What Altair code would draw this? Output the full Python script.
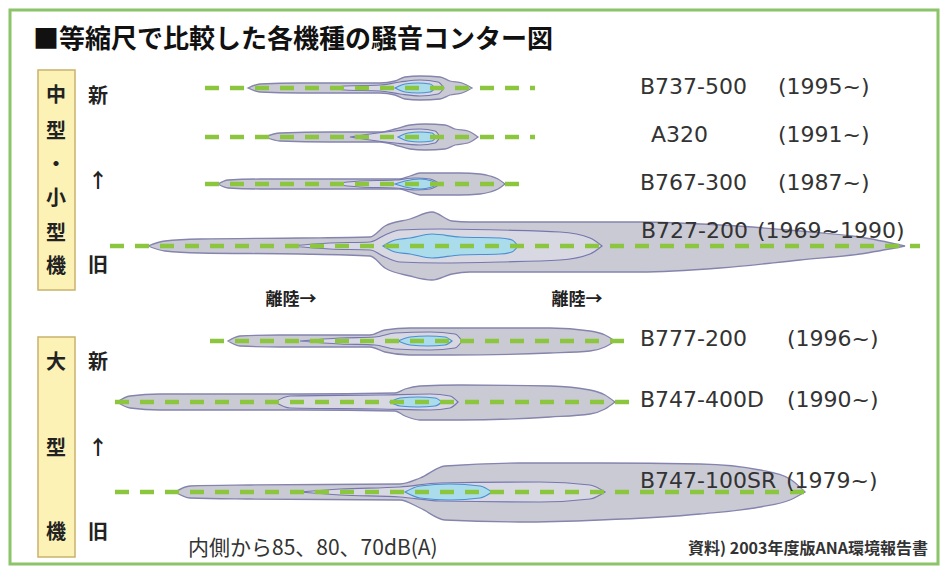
import altair as alt
import pandas as pd

# ---------------- data ----------------
aircraft = ["B737-500", "A320", "B767-300", "B727-200", "B777-200", "B747-400D", "B747-100SR"]
years = ["(1995~)", "(1991~)", "(1987~)", "(1969~1990)", "(1996~)", "(1990~)", "(1979~)"]
row_y = [88, 137, 184, 246, 341, 402, 492]
track_start = [205, 205, 205, 110, 210, 115, 115]
track_end = [535, 535, 530, 920, 635, 635, 805]

# contour outlines: x positions, half-width above and below the track
# level 70 dB (outer)
outer_x = {
    "B737-500": [248, 260, 300, 380, 395, 405, 420, 440, 450, 462, 472],
    "A320": [265, 280, 330, 380, 395, 410, 425, 445, 455, 468, 478],
    "B767-300": [218, 228, 260, 400, 410, 420, 460, 480, 490, 498, 505],
    "B727-200": [148, 165, 200, 300, 370, 385, 410, 432, 452, 470, 560, 640, 720, 800, 860, 905],
    "B777-200": [228, 240, 280, 370, 385, 410, 450, 550, 590, 605, 615],
    "B747-400D": [117, 130, 160, 300, 395, 405, 420, 460, 550, 590, 605, 615],
    "B747-100SR": [175, 190, 250, 400, 420, 445, 520, 600, 700, 760, 790, 805],
}
outer_top = {
    "B737-500": [0, 4, 5, 5, 7, 11, 12, 11, 7, 5, 0],
    "A320": [0, 4, 5, 5, 8, 12, 13, 12, 8, 6, 0],
    "B767-300": [0, 4, 5, 5, 8, 11, 11, 10, 8, 5, 0],
    "B727-200": [0, 5, 7, 8, 9, 20, 27, 34, 25, 24, 24, 24, 21, 15, 9, 0],
    "B777-200": [0, 5, 6, 6, 11, 13, 13, 13, 10, 6, 0],
    "B747-400D": [0, 6, 8, 8, 9, 13, 16, 17, 16, 12, 7, 0],
    "B747-100SR": [0, 6, 7, 8, 14, 26, 29, 29, 28, 22, 13, 0],
}
outer_bot = {
    "B737-500": [0, 4, 5, 5, 7, 11, 12, 11, 7, 5, 0],
    "A320": [0, 4, 5, 5, 8, 12, 13, 12, 8, 6, 0],
    "B767-300": [0, 4, 5, 5, 8, 11, 11, 10, 8, 5, 0],
    "B727-200": [0, 5, 7, 8, 10, 22, 30, 34, 28, 26, 26, 26, 22, 14, 8, 0],
    "B777-200": [0, 5, 6, 6, 11, 14, 14, 12, 10, 6, 0],
    "B747-400D": [0, 6, 8, 8, 9, 14, 18, 18, 15, 12, 7, 0],
    "B747-100SR": [0, 6, 7, 8, 16, 28, 30, 28, 22, 15, 8, 0],
}
# level 80 dB (middle)
mid_x = {
    "B737-500": [330, 345, 380, 400, 420, 438, 444],
    "A320": [350, 370, 395, 420, 435, 440],
    "B767-300": [330, 360, 395, 415, 430, 440],
    "B727-200": [290, 330, 370, 385, 400, 440, 500, 560, 590, 602],
    "B777-200": [300, 340, 375, 395, 430, 455, 462],
    "B747-400D": [275, 290, 380, 430, 450, 458],
    "B747-100SR": [300, 340, 400, 440, 540, 590, 605],
}
mid_half = {
    "B737-500": [0, 2, 3, 6, 8, 6, 0],
    "A320": [0, 3, 6, 8, 6, 0],
    "B767-300": [0, 3, 4, 6, 5, 0],
    "B727-200": [0, 3, 4, 11, 16, 17, 16, 14, 8, 0],
    "B777-200": [0, 3, 4, 8, 9, 7, 0],
    "B747-400D": [0, 6, 7, 8, 6, 0],
    "B747-100SR": [0, 3, 5, 9, 10, 7, 0],
}
# level 85 dB (inner)
inner_x = {
    "B737-500": [395, 405, 418, 430, 435],
    "A320": [398, 408, 420, 432, 436],
    "B767-300": [395, 405, 420, 432, 437],
    "B727-200": [383, 395, 410, 432, 460, 500, 512, 518],
    "B777-200": [398, 410, 428, 445, 452],
    "B747-400D": [390, 400, 418, 435, 442],
    "B747-100SR": [405, 420, 450, 480, 492],
}
inner_half = {
    "B737-500": [0, 4, 5, 4, 0],
    "A320": [0, 4, 5, 4, 0],
    "B767-300": [0, 3, 5, 3, 0],
    "B727-200": [0, 6, 8, 12, 9, 8, 6, 0],
    "B777-200": [0, 4, 5, 4, 0],
    "B747-400D": [0, 4, 5, 4, 0],
    "B747-100SR": [0, 6, 8, 6, 0],
}

title_text = "■等縮尺で比較した各機種の騒音コンター図"
group1_chars = ["中", "型", "・", "小", "型", "機"]
group2_chars = ["大", "型", "機"]
side_chars = ["新", "↑", "旧"]
takeoff_label = "離陸→"
legend_text = "内側から85、80、70dB(A)"
source_text = "資料) 2003年度版ANA環境報告書"

# ---------------- layout ----------------
name_x = [640, 651, 640, 641, 640, 640, 640]
year_x = [778, 778, 778, 757, 787, 787, 786]
label_y = [87, 135, 183, 231, 339, 400, 481]
group1_y = [96, 132, 165, 199, 234, 267]
group2_y = [363, 449, 533]
side1_y = [97, 182, 266]
side2_y = [363, 449, 533]
takeoff_x = [291, 577]
takeoff_y = [300, 300]


def contour_frame(xs, tops, bots):
    rows = []
    for i, a in enumerate(aircraft):
        cy = row_y[i]
        for x, t, b in zip(xs[a], tops[a], bots[a]):
            rows.append({"aircraft": a, "x": x, "yt": cy - t, "yb": cy + b})
    return pd.DataFrame(rows)


outer_df = contour_frame(outer_x, outer_top, outer_bot)
mid_df = contour_frame(mid_x, mid_half, mid_half)
inner_df = contour_frame(inner_x, inner_half, inner_half)

track_df = pd.DataFrame({"aircraft": aircraft, "x": track_start, "x2": track_end, "y": row_y})
name_df = pd.DataFrame({"t": aircraft, "x": name_x, "y": label_y})
year_df = pd.DataFrame({"t": years, "x": year_x, "y": label_y})

XS = alt.Scale(domain=[8, 940], nice=False, zero=False)
YS = alt.Scale(domain=[8, 566], nice=False, zero=False, reverse=True)


def X(f):
    return alt.X(f, type="quantitative", scale=XS, axis=None)


def Y(f):
    return alt.Y(f, type="quantitative", scale=YS, axis=None)


def area_layer(df, fill, stroke, sw):
    return alt.Chart(df).mark_area(
        interpolate="monotone", fill=fill, stroke=stroke, strokeWidth=sw
    ).encode(x=X("x"), y=Y("yt"), y2="yb:Q", detail="aircraft:N")


outer = area_layer(outer_df, "#cacad4", "#8484ae", 1.3)
mid = area_layer(mid_df, "#d8d8e2", "#7676b0", 1.2)
inner = area_layer(inner_df, "#aadcec", "#4b8fd2", 1.2)

tracks = alt.Chart(track_df).mark_rule(
    color="#8cc63f", strokeWidth=4.5, strokeDash=[14, 11]
).encode(x=X("x"), x2="x2:Q", y=Y("y"))

frame_df = pd.DataFrame({"x": [10], "x2": [938], "y": [10], "y2": [564]})
frame = alt.Chart(frame_df).mark_rect(
    fillOpacity=0, stroke="#8cc46a", strokeWidth=3
).encode(x=X("x"), x2="x2:Q", y=Y("y"), y2="y2:Q")

box_df = pd.DataFrame({"x": [38, 38], "x2": [75, 75], "y": [70, 337], "y2": [290, 557]})
boxes = alt.Chart(box_df).mark_rect(
    fill="#fdf2b6", stroke="#c8b26c", strokeWidth=1.5
).encode(x=X("x"), x2="x2:Q", y=Y("y"), y2="y2:Q")

cjk = "Noto Sans CJK JP"


def text_layer(df, **kw):
    return alt.Chart(df).mark_text(**kw).encode(x=X("x"), y=Y("y"), text="t:N")


title = text_layer(
    pd.DataFrame({"t": [title_text], "x": [33], "y": [40]}),
    align="left", baseline="middle", font=cjk, fontSize=26, fontWeight="bold", color="#111111",
)
g_df = pd.DataFrame({
    "t": group1_chars + group2_chars,
    "x": [56] * (len(group1_chars) + len(group2_chars)),
    "y": group1_y + group2_y,
})
gtext = text_layer(g_df, align="center", baseline="middle", font=cjk, fontSize=20,
                   fontWeight="bold", color="#222222")
s_df = pd.DataFrame({"t": side_chars + side_chars, "x": [98] * 6, "y": side1_y + side2_y})
stext = text_layer(s_df, align="center", baseline="middle", font=cjk, fontSize=20,
                   fontWeight="bold", color="#222222")
t_df = pd.DataFrame({"t": [takeoff_label] * 2, "x": takeoff_x, "y": takeoff_y})
ttext = text_layer(t_df, align="center", baseline="middle", font=cjk, fontSize=17,
                   fontWeight="bold", color="#222222")
names = text_layer(name_df, align="left", baseline="middle", font="DejaVu Sans", fontSize=22,
                   color="#333333")
yrs = text_layer(year_df, align="left", baseline="middle", font="DejaVu Sans", fontSize=22,
                 color="#333333")
legend = text_layer(pd.DataFrame({"t": [legend_text], "x": [188], "y": [549]}),
                    align="left", baseline="middle", font=cjk, fontSize=21, color="#333333")
source = text_layer(pd.DataFrame({"t": [source_text], "x": [928], "y": [549]}),
                    align="right", baseline="middle", font=cjk, fontSize=16, fontWeight="bold",
                    color="#333333")

chart = alt.layer(
    frame, boxes, outer, mid, inner, tracks, title, gtext, stext, ttext, names, yrs, legend, source
).properties(
    width=932, height=558, padding=0, background="white",
    autosize=alt.AutoSizeParams(type="fit", contains="padding"),
).configure_view(strokeWidth=0)

chart.save("out.html", embed_options={"renderer": "svg", "actions": False})
